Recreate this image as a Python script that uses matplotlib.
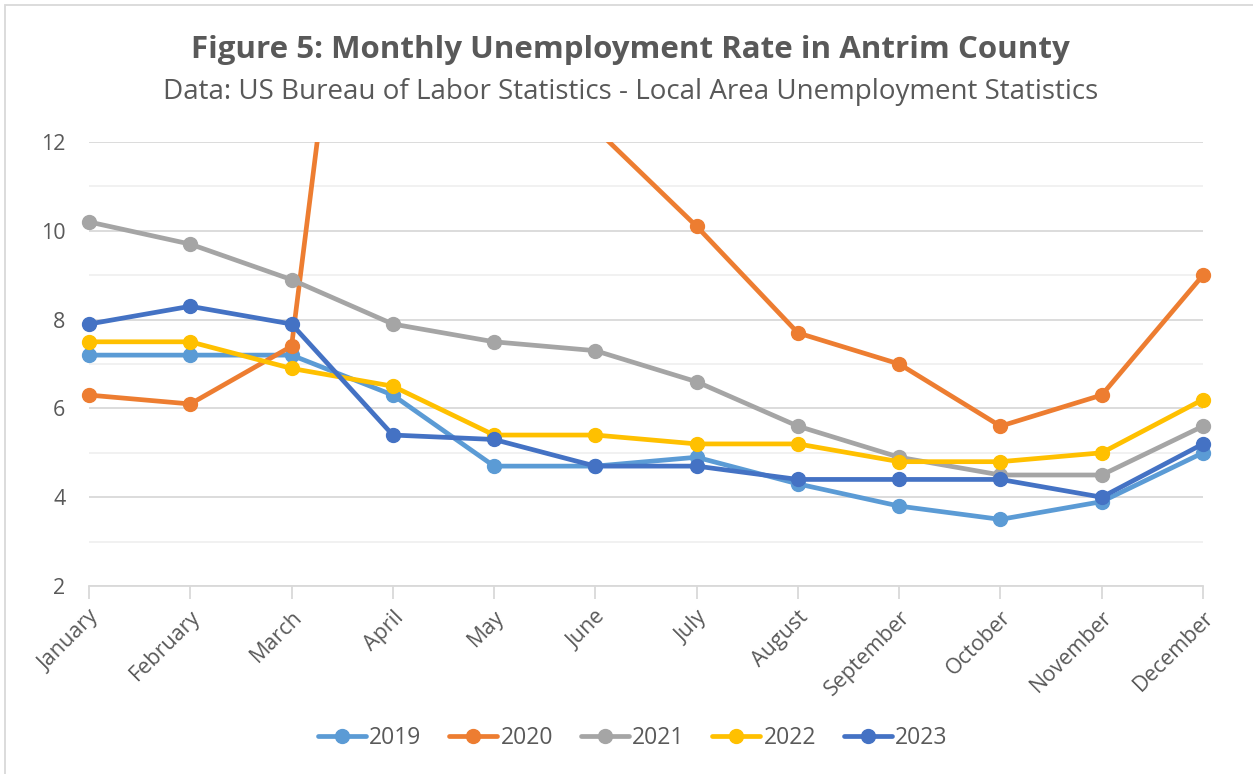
import matplotlib.pyplot as plt
from matplotlib.patches import Rectangle

months = ["January", "February", "March", "April", "May", "June", "July",
          "August", "September", "October", "November", "December"]

rate_2019 = [7.2, 7.2, 7.2, 6.3, 4.7, 4.7, 4.9, 4.3, 3.8, 3.5, 3.9, 5.0]
rate_2020 = [6.3, 6.1, 7.4, 25.6, 19.0, 12.3, 10.1, 7.7, 7.0, 5.6, 6.3, 9.0]
rate_2021 = [10.2, 9.7, 8.9, 7.9, 7.5, 7.3, 6.6, 5.6, 4.9, 4.5, 4.5, 5.6]
rate_2022 = [7.5, 7.5, 6.9, 6.5, 5.4, 5.4, 5.2, 5.2, 4.8, 4.8, 5.0, 6.2]
rate_2023 = [7.9, 8.3, 7.9, 5.4, 5.3, 4.7, 4.7, 4.4, 4.4, 4.4, 4.0, 5.2]

years = ["2019", "2020", "2021", "2022", "2023"]
colors = ["#5B9BD5", "#ED7D31", "#A5A5A5", "#FFC000", "#4472C4"]

plt.rcParams["font.family"] = ["Open Sans", "DejaVu Sans"]

fig = plt.figure(figsize=(12.53, 7.74), dpi=100)
ax = fig.add_axes([89 / 1253, 1 - 586 / 774, (1203 - 89) / 1253, (586 - 142) / 774])

# clip only at the top/bottom so end markers are drawn whole
clip_box = Rectangle((-0.05, 0), 1.1, 1, transform=ax.transAxes)

x = list(range(len(months)))
for yr, vals, c in zip(years, [rate_2019, rate_2020, rate_2021, rate_2022, rate_2023], colors):
    line, = ax.plot(x, vals, color=c, lw=3.4, marker="o", ms=10, label=yr,
                    solid_capstyle="round")
    line.set_clip_path(clip_box)

ax.set_xlim(0, 11)
ax.set_ylim(2, 12)
ax.set_yticks([2, 4, 6, 8, 10, 12])
ax.set_yticks(range(3, 12, 2), minor=True)
ax.grid(True, axis="y", which="major", color="#D9D9D9", lw=1.3)
ax.grid(True, axis="y", which="minor", color="#F0F0F0", lw=1.3)
ax.set_axisbelow(True)
ax.tick_params(axis="y", which="both", length=0, labelsize=15.5, labelcolor="#595959", pad=17)

ax.set_xticks(x)
ax.set_xticklabels(months, rotation=45, ha="right", va="top", rotation_mode="anchor")
ax.tick_params(axis="x", length=9, width=1.3, color="#D9D9D9", labelsize=15.5,
               labelcolor="#595959", pad=6, direction="out")

for s in ["top", "right", "left"]:
    ax.spines[s].set_visible(False)
ax.spines["bottom"].set_color("#D9D9D9")
ax.spines["bottom"].set_linewidth(1.3)

fig.text(0.503, 1 - 50 / 774, "Figure 5: Monthly Unemployment Rate in Antrim County",
         ha="center", va="center", fontsize=22.5, fontweight="bold", color="#595959")
fig.text(0.503, 1 - 92 / 774, "Data: US Bureau of Labor Statistics - Local Area Unemployment Statistics",
         ha="center", va="center", fontsize=20, color="#595959")

leg = fig.legend(loc="center", bbox_to_anchor=(0.505, 1 - 738 / 774), ncol=5, frameon=False,
                 fontsize=16.5, handlelength=2.1, handletextpad=0.15, columnspacing=1.2)
for t in leg.get_texts():
    t.set_color("#595959")

fig.patches.append(Rectangle((5 / 1253, -0.1), 1.2, 1 - 5 / 774 + 0.1,
                             transform=fig.transFigure, fill=False,
                             edgecolor="#D9D9D9", lw=1.3))

fig.savefig("out.png", dpi=100)
